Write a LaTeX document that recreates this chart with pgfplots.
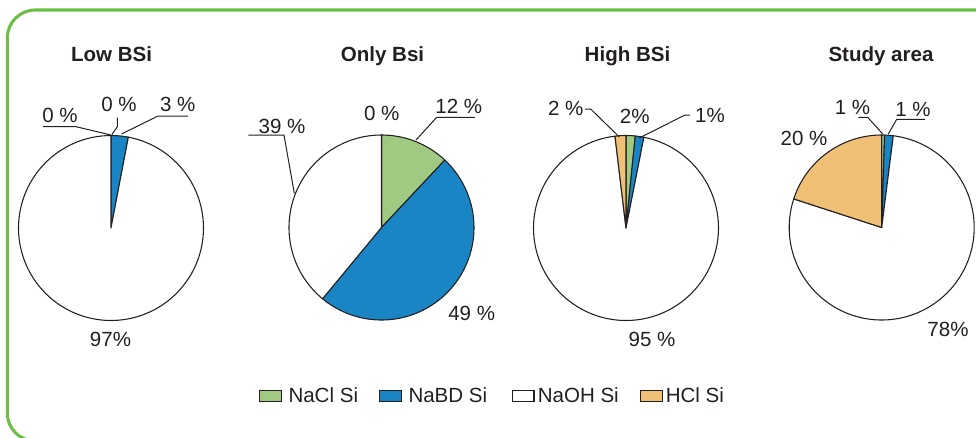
\documentclass[border=0pt]{standalone}
\usepackage{fontspec}
\setmainfont{Liberation Sans}
\usepackage{pgfplots}
\pgfplotsset{compat=1.18}
\definecolor{nacl}{HTML}{A0CA82}
\definecolor{nabd}{HTML}{1A85C5}
\definecolor{naoh}{HTML}{FFFFFF}
\definecolor{hcl}{HTML}{F0C076}
\definecolor{pieline}{HTML}{231F20}
\definecolor{txt}{HTML}{231F20}
\definecolor{bordergreen}{HTML}{6CBE45}
\newcommand\R{92.5}
% one slice: centre x, centre y (pixel units), start and end in percent, colour
\newcommand\pieslice[5]{%
  \pgfmathsetmacro\angA{90-3.6*(#3)}%
  \pgfmathsetmacro\angB{90-3.6*(#4)}%
  \edef\doslice{\noexpand\addplot[draw=pieline, line width=0.8pt, line join=round, fill=#5,
      domain=\angB:\angA, samples=120, variable=\noexpand\t]
      ({#1+\R*cos(\noexpand\t)},{#2-\R*sin(\noexpand\t)}) -- (axis cs:#1,#2) -- cycle;}%
  \doslice
}
% pie: centre x, centre y, NaCl, NaBD, NaOH, HCl (percent), clockwise from top
\newcommand\pie[6]{%
  \pgfmathsetmacro\cA{#3}%
  \pgfmathsetmacro\cB{#3+#4}%
  \pgfmathsetmacro\cC{#3+#4+#5}%
  \pgfmathsetmacro\cD{#3+#4+#5+#6}%
  \ifdim #3pt>0pt \pieslice{#1}{#2}{0}{\cA}{nacl}\fi
  \ifdim #4pt>0pt \pieslice{#1}{#2}{\cA}{\cB}{nabd}\fi
  \ifdim #5pt>0pt \pieslice{#1}{#2}{\cB}{\cC}{naoh}\fi
  \ifdim #6pt>0pt \pieslice{#1}{#2}{\cC}{\cD}{hcl}\fi
}
\tikzset{lbl/.style={inner sep=0pt, outer sep=0pt, text=txt}}
\begin{document}
\fontsize{15.4}{18}\selectfont
\begin{tikzpicture}
\begin{axis}[
  width=732pt, height=327.75pt, scale only axis,
  xmin=0, xmax=976, ymin=0, ymax=437, y dir=reverse,
  hide axis, clip=false,
]
% border
\draw[bordergreen, line width=2.3pt, rounded corners=21pt] (axis cs:7.3,10) rectangle (axis cs:1020,441);

% pies: cx, cy, NaCl, NaBD, NaOH, HCl
\pie{111}{228}{0}{3}{97}{0}
\pie{381.5}{227.5}{12}{49}{39}{0}
\pie{626}{228}{1.6}{1.5}{95}{1.9}
\pie{881.7}{227.5}{0.5}{1.5}{78}{20}

% titles
\node[lbl, anchor=base, font=\bfseries] at (axis cs:111.5,61) {Low BSi};
\node[lbl, anchor=base, font=\bfseries] at (axis cs:382.5,61) {Only Bsi};
\node[lbl, anchor=base, font=\bfseries] at (axis cs:627.5,61) {High BSi};
\node[lbl, anchor=base, font=\bfseries] at (axis cs:881,61) {Study area};

% Low BSi labels
\node[lbl, anchor=base] at (axis cs:60,122.7) {0 \%};
\node[lbl, anchor=base] at (axis cs:119,111.7) {0 \%};
\node[lbl, anchor=base] at (axis cs:177.7,111.7) {3 \%};
\node[lbl, anchor=base] at (axis cs:110.5,346) {97\%};
\draw[pieline, line width=0.75pt] (axis cs:43,126.7) -- (axis cs:76,126.7) -- (axis cs:111,135);
\draw[pieline, line width=0.75pt] (axis cs:117.3,117.5) -- (axis cs:117.3,126.7) -- (axis cs:112,134.5);
\draw[pieline, line width=0.75pt] (axis cs:188,116) -- (axis cs:158,116) -- (axis cs:121.5,134);

% Only Bsi labels
\node[lbl, anchor=base] at (axis cs:381.7,120) {0 \%};
\node[lbl, anchor=base] at (axis cs:458.8,113.3) {12 \%};
\node[lbl, anchor=base] at (axis cs:282,133.3) {39 \%};
\node[lbl, anchor=base] at (axis cs:471.7,320) {49 \%};
\draw[pieline, line width=0.75pt] (axis cs:475,117.3) -- (axis cs:436.7,117.3) -- (axis cs:416,140);
\draw[pieline, line width=0.75pt] (axis cs:248.3,135) -- (axis cs:284,135) -- (axis cs:294.3,193.3);

% High BSi labels
\node[lbl, anchor=base] at (axis cs:565.8,115) {2 \%};
\node[lbl, anchor=base] at (axis cs:634.7,123.3) {2\%};
\node[lbl, anchor=base] at (axis cs:710,122.7) {1\%};
\node[lbl, anchor=base] at (axis cs:652,346) {95 \%};
\draw[pieline, line width=0.75pt] (axis cs:585,109) -- (axis cs:590.7,109) -- (axis cs:619.3,137);
\draw[pieline, line width=0.75pt] (axis cs:690,115) -- (axis cs:685,115) -- (axis cs:639.3,138);

% Study area labels
\node[lbl, anchor=base] at (axis cs:852.5,114) {1 \%};
\node[lbl, anchor=base] at (axis cs:913,116.7) {1 \%};
\node[lbl, anchor=base] at (axis cs:804,145.7) {20 \%};
\node[lbl, anchor=base] at (axis cs:948,336) {78\%};
\draw[pieline, line width=0.75pt] (axis cs:858.3,117.3) -- (axis cs:867.7,117.3) -- (axis cs:882.7,134);
\draw[pieline, line width=0.75pt] (axis cs:925,119.3) -- (axis cs:896.7,119.3) -- (axis cs:888.3,134);

% legend
\draw[pieline, line width=0.8pt, fill=nacl] (axis cs:259.3,390.7) rectangle (axis cs:281.7,401.7);
\node[lbl, anchor=base west] at (axis cs:288.5,402.3) {NaCl Si};
\draw[pieline, line width=0.8pt, fill=nabd] (axis cs:379.3,390.7) rectangle (axis cs:401.7,401.7);
\node[lbl, anchor=base west] at (axis cs:408.5,402.3) {NaBD Si};
\draw[pieline, line width=0.8pt, fill=naoh] (axis cs:512.7,390.7) rectangle (axis cs:534,401.7);
\node[lbl, anchor=base west] at (axis cs:537.8,402.3) {NaOH Si};
\draw[pieline, line width=0.8pt, fill=hcl] (axis cs:640.7,390.7) rectangle (axis cs:662.3,401.7);
\node[lbl, anchor=base west] at (axis cs:665.8,402.3) {HCl Si};
\end{axis}
\pgfresetboundingbox
\path[use as bounding box] (current axis.south west) rectangle (current axis.north east);
\end{tikzpicture}
\end{document}
